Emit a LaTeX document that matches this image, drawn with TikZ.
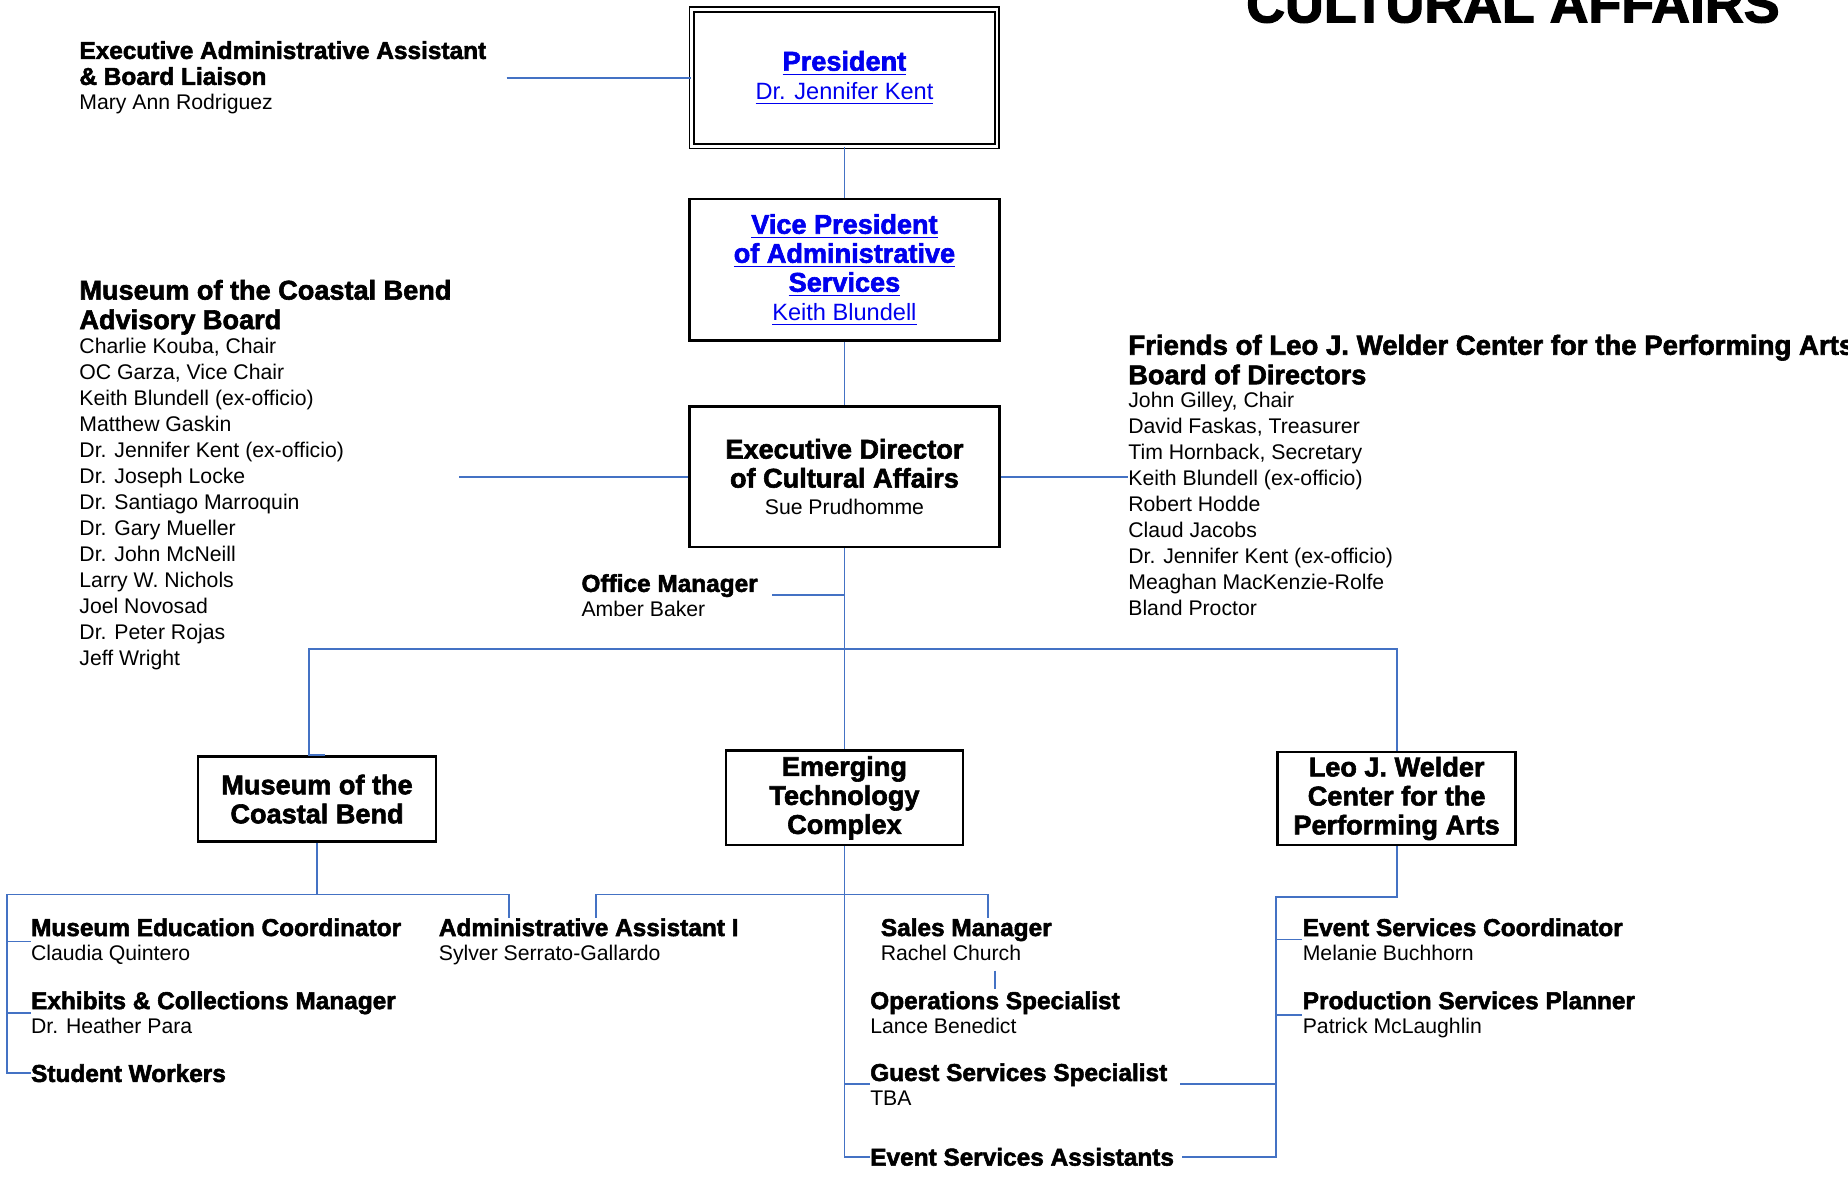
\documentclass[tikz,border=0pt]{standalone}
\usepackage{fontspec}
\setmainfont{Liberation Sans}[BoldFeatures={FakeBold=2.2}]
\usetikzlibrary{calc}
\definecolor{linkblue}{RGB}{0,0,238}
\definecolor{linecol}{RGB}{68,114,196}
\newcommand\headfont{\fontsize{11.5}{12.3}\selectfont\bfseries}
\newcommand\jobfont{\fontsize{10.35}{11}\selectfont\bfseries}
\newcommand\namefont{\fontsize{9}{11}\selectfont}
\begin{document}
\begin{tikzpicture}[x=0.5pt,y=-0.5pt,
  unit/.style={draw,line width=1.1pt,inner sep=0pt,align=center,font=\headfont},
  info/.style={anchor=base west,inner sep=0pt,align=left,font=\namefont},
  role/.style={info,font=\fontsize{9}{10.4}\selectfont},
  link/.style={draw=linecol,line width=0.8pt}]
\clip (0,0) rectangle (1568,999);
\fill[white] (0,0) rectangle (1568,999);
\node[anchor=base west,inner sep=0pt,font=\fontsize{22.8}{24}\selectfont\bfseries] (title) at (1057,19) {CULTURAL AFFAIRS};

% boxes
\node[unit,double,double distance=1.2pt,line width=0.8pt,minimum width=129.5pt,minimum height=58pt,text=linkblue] (pres) at (716.5,66)
  {\underline{President}\\{\fontsize{10}{12}\selectfont\mdseries\underline{Dr. Jennifer Kent}}};
\node[unit,minimum width=131.5pt,minimum height=60pt,text=linkblue] (vp) at (716.5,229)
  {\underline{Vice President}\\\underline{of Administrative}\\\underline{Services}\\{\fontsize{10}{12}\selectfont\mdseries\underline{Keith Blundell}}};
\node[unit,minimum width=131.5pt,minimum height=59.5pt] (ed) at (716.5,404.5)
  {Executive Director\\of Cultural Affairs\\[-1pt]{\namefont\mdseries Sue Prudhomme}};
\node[unit,minimum width=101pt,minimum height=36pt] (mcb) at (269,678) {Museum of the\\Coastal Bend};
\node[unit,minimum width=100.5pt,minimum height=40pt] (etc) at (716.5,677) {Emerging\\Technology\\Complex};
\node[unit,minimum width=101pt,minimum height=39.5pt] (leo) at (1185,677.5) {Leo J. Welder\\Center for the\\Performing Arts};

% people (anchored on the last line)
\node[info] (eaa) at (67,93) {{\jobfont Executive Administrative Assistant}\\{\jobfont \& Board Liaison}\\[-0.5pt]Mary Ann Rodriguez};
\node[info] (mcbab) at (67,565) {{\headfont Museum of the Coastal Bend}\\[1.5pt]{\headfont Advisory Board}\\[-0.5pt]
  Charlie Kouba, Chair\\OC Garza, Vice Chair\\Keith Blundell (ex-officio)\\Matthew Gaskin\\Dr. Jennifer Kent (ex-officio)\\
  Dr. Joseph Locke\\Dr. Santiago Marroquin\\Dr. Gary Mueller\\Dr. John McNeill\\Larry W. Nichols\\Joel Novosad\\
  Dr. Peter Rojas\\[0.4pt]Jeff Wright};
\node[info] (friends) at (957,522) {{\headfont\fontsize{11.7}{12.3}\selectfont Friends of Leo J. Welder Center for the Performing Arts}\\[1.5pt]{\headfont Board of Directors}\\[-1pt]
  John Gilley, Chair\\David Faskas, Treasurer\\Tim Hornback, Secretary\\Keith Blundell (ex-officio)\\Robert Hodde\\
  Claud Jacobs\\Dr. Jennifer Kent (ex-officio)\\Meaghan MacKenzie-Rolfe\\Bland Proctor};
\node[role] (office) at (493,523) {{\jobfont Office Manager}\\Amber Baker};
\node[role] (mec) at (26,815) {{\jobfont Museum Education Coordinator}\\Claudia Quintero};
\node[role] (ecm) at (26,877) {{\jobfont Exhibits \& Collections Manager}\\Dr. Heather Para};
\node[info,font=\jobfont] (sw) at (26,918) {Student Workers};
\node[role] (aa1) at (372,815) {{\jobfont Administrative Assistant I}\\Sylver Serrato-Gallardo};
\node[role] (sales) at (747,815) {{\jobfont Sales Manager}\\Rachel Church};
\node[role] (ops) at (738,877) {{\jobfont Operations Specialist}\\Lance Benedict};
\node[role] (guest) at (738,938) {{\jobfont Guest Services Specialist}\\TBA};
\node[info,font=\jobfont] (esa) at (738,989) {Event Services Assistants};
\node[role] (esc) at (1105,815) {{\jobfont Event Services Coordinator}\\Melanie Buchhorn};
\node[role] (psp) at (1105,877) {{\jobfont Production Services Planner}\\Patrick McLaughlin};

% connectors
\draw[link] ($(eaa.east |- pres.west)+(17,0)$) -- (pres.west);
\draw[link] (pres.south) -- (vp.north);
\draw[link] (vp.south) -- (ed.north);
\draw[link] (ed.west) -- ($(mcbab.east |- ed.west)+(6,0)$);
\draw[link] (ed.east) -- (ed.east -| friends.west);
\draw[link] (ed.south) -- (etc.north);
\draw[link] ($(office.east)+(12,0)$) -- (office.east -| ed.south);
\coordinate (bus) at (716.5,551);
\draw[link] ([xshift=3.5pt]mcb.north) -- ([xshift=-3.5pt]mcb.north) |- (bus) -| (leo.north);

\coordinate (mbl) at (6,759);
\coordinate (mbr) at (432,759);
\draw[link] (mcb.south) -- (mcb.south |- mbl);
\draw[link] (mbr |- aa1.north) -- (mbr) -- (mbl) |- (sw.west);
\draw[link] (mbl |- mec.west) -- (mec.west);
\draw[link] (mbl |- ecm.west) -- (ecm.west);

\coordinate (ebl) at (506,759);
\coordinate (ebr) at (838,759);
\draw[link] (ebl |- aa1.north) -- (ebl) -- (ebr) -- (ebr |- sales.north);
\draw[link] (etc.south) |- (esa.west);
\draw[link] (etc.south |- guest.west) -- (guest.west);
\draw[link,shorten <=4pt,shorten >=1pt] (ops.north |- sales.south) -- (ops.north);

\coordinate (lbt) at (1083,761);
\draw[link] (leo.south) |- (lbt) |- ($(esa.east)+(6,0)$);
\draw[link] (lbt |- guest.east) -- ($(guest.east)+(10,0)$);
\draw[link] (lbt |- esc.west) -- (esc.west);
\draw[link] (lbt |- psp.west) -- (psp.west);
\end{tikzpicture}
\end{document}
